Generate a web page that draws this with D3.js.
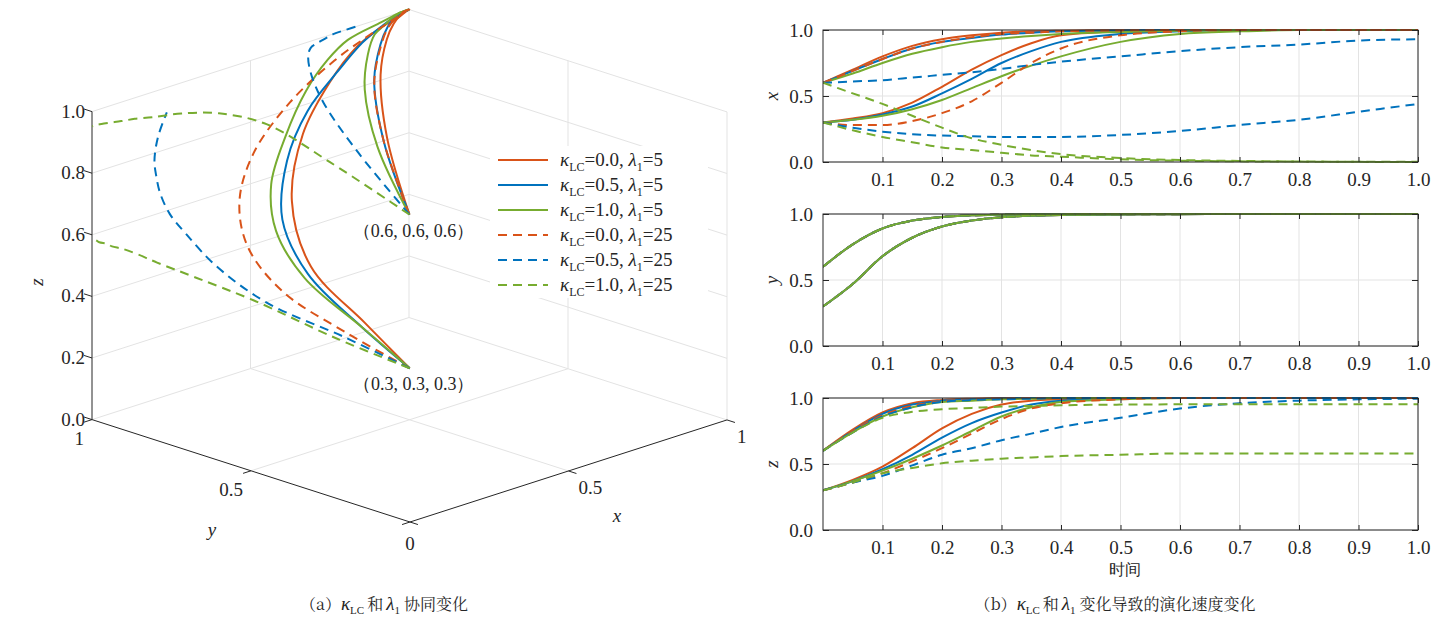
<!DOCTYPE html>
<html>
<head>
<meta charset="utf-8">
<script src="https://cdn.jsdelivr.net/npm/d3@7"></script>
<style>
  body { margin: 0; background: #fff; }
  svg text { font-family: "Liberation Serif", "DejaVu Serif", serif; fill: #262626; }
  svg text .cjk, svg text.cjk { font-family: "Noto Serif CJK SC", "Noto Sans CJK SC", serif; }
</style>
</head>
<body>
<div id="chart"></div>
<script>
// ---------------- data ----------------
var times = [0, 0.05, 0.1, 0.15, 0.2, 0.25, 0.3, 0.35, 0.4, 0.5, 0.6, 0.7, 0.8, 0.9, 1.0];

var kappaLabels = ["0.0", "0.5", "1.0", "0.0", "0.5", "1.0"];
var lambdaLabels = ["5", "5", "5", "25", "25", "25"];

// y(t) is practically identical for every parameter set
var yFrom06 = [0.60, 0.77, 0.89, 0.95, 0.978, 0.99, 0.995, 0.998, 0.999, 1, 1, 1, 1, 1, 1];
var yFrom03 = [0.30, 0.47, 0.68, 0.82, 0.905, 0.95, 0.975, 0.987, 0.993, 0.997, 0.999, 1, 1, 1, 1];

// x(t), one row per series (legend order), start (0.6,0.6,0.6)
var xFrom06 = [
  [0.60, 0.70, 0.80, 0.88, 0.93, 0.96, 0.98, 0.99, 0.995, 1, 1, 1, 1, 1, 1],
  [0.60, 0.69, 0.78, 0.86, 0.91, 0.94, 0.965, 0.98, 0.99, 0.997, 1, 1, 1, 1, 1],
  [0.60, 0.67, 0.75, 0.82, 0.87, 0.91, 0.935, 0.955, 0.97, 0.985, 0.995, 1, 1, 1, 1],
  [0.60, 0.69, 0.78, 0.86, 0.91, 0.945, 0.97, 0.98, 0.99, 0.997, 1, 1, 1, 1, 1],
  [0.60, 0.61, 0.62, 0.64, 0.66, 0.68, 0.705, 0.735, 0.76, 0.80, 0.84, 0.87, 0.89, 0.92, 0.93],
  [0.60, 0.52, 0.44, 0.35, 0.26, 0.18, 0.13, 0.09, 0.06, 0.03, 0.015, 0.008, 0.004, 0.002, 0.001]
];
// x(t), start (0.3,0.3,0.3)
var xFrom03 = [
  [0.30, 0.33, 0.37, 0.45, 0.57, 0.70, 0.81, 0.90, 0.96, 0.99, 1, 1, 1, 1, 1],
  [0.30, 0.32, 0.36, 0.42, 0.52, 0.63, 0.75, 0.84, 0.91, 0.97, 0.99, 1, 1, 1, 1],
  [0.30, 0.32, 0.35, 0.40, 0.47, 0.56, 0.65, 0.73, 0.80, 0.91, 0.97, 0.99, 1, 1, 1],
  [0.30, 0.28, 0.28, 0.31, 0.37, 0.46, 0.60, 0.75, 0.86, 0.96, 0.99, 1, 1, 1, 1],
  [0.30, 0.26, 0.23, 0.21, 0.20, 0.195, 0.19, 0.19, 0.19, 0.205, 0.235, 0.28, 0.32, 0.38, 0.44],
  [0.30, 0.24, 0.19, 0.15, 0.11, 0.09, 0.07, 0.05, 0.04, 0.02, 0.01, 0.005, 0.003, 0.001, 0]
];
// z(t), start (0.6,0.6,0.6)
var zFrom06 = [
  [0.60, 0.76, 0.89, 0.96, 0.985, 0.995, 1, 1, 1, 1, 1, 1, 1, 1, 1],
  [0.60, 0.75, 0.88, 0.95, 0.98, 0.99, 0.997, 1, 1, 1, 1, 1, 1, 1, 1],
  [0.60, 0.74, 0.86, 0.93, 0.97, 0.98, 0.99, 0.995, 1, 1, 1, 1, 1, 1, 1],
  [0.60, 0.75, 0.87, 0.94, 0.975, 0.99, 0.995, 1, 1, 1, 1, 1, 1, 1, 1],
  [0.60, 0.74, 0.86, 0.93, 0.97, 0.985, 0.99, 0.995, 1, 1, 1, 1, 1, 1, 1],
  [0.60, 0.74, 0.85, 0.895, 0.915, 0.925, 0.935, 0.94, 0.945, 0.95, 0.952, 0.952, 0.952, 0.952, 0.952]
];
// z(t), start (0.3,0.3,0.3)
var zFrom03 = [
  [0.30, 0.38, 0.48, 0.62, 0.77, 0.88, 0.95, 0.98, 0.99, 1, 1, 1, 1, 1, 1],
  [0.30, 0.37, 0.46, 0.57, 0.70, 0.81, 0.89, 0.95, 0.98, 1, 1, 1, 1, 1, 1],
  [0.30, 0.37, 0.45, 0.54, 0.64, 0.75, 0.86, 0.93, 0.97, 0.99, 1, 1, 1, 1, 1],
  [0.30, 0.36, 0.43, 0.52, 0.62, 0.73, 0.84, 0.92, 0.96, 0.99, 1, 1, 1, 1, 1],
  [0.30, 0.36, 0.41, 0.49, 0.57, 0.62, 0.68, 0.73, 0.78, 0.85, 0.92, 0.96, 0.98, 0.99, 0.995],
  [0.30, 0.36, 0.43, 0.47, 0.505, 0.525, 0.54, 0.55, 0.56, 0.57, 0.58, 0.58, 0.58, 0.58, 0.58]
];
// last time drawn in the 3D view for each series
var end3d = [1, 1, 1, 1, 0.6, 1];

var startLabels = ["（0.6, 0.6, 0.6）", "（0.3, 0.3, 0.3）"];
var startValues = [0.6, 0.3];
var zTicks = [0, 0.2, 0.4, 0.6, 0.8, 1.0];
var floorTicks = [0, 0.5, 1];
var timeTicks = [0.1, 0.2, 0.3, 0.4, 0.5, 0.6, 0.7, 0.8, 0.9, 1.0];
var valueTicks = [0, 0.5, 1];
var panelNames = ["x", "y", "z"];

// ---------------- styles ----------------
var colors = ["#d95319", "#0072bd", "#77ac30", "#d95319", "#0072bd", "#77ac30"];
var dashed = [false, false, false, true, true, true];
var gridColor = "#e3e3e3";
var axisColor = "#262626";
var serif = "'Liberation Serif', 'DejaVu Serif', serif";
var cjkFont = "'Noto Serif CJK SC', 'Noto Sans CJK SC', serif";

var svg = d3.select("#chart").append("svg")
  .attr("width", 1453)
  .attr("height", 629)
  .attr("font-family", serif);

// build the trajectories: each series has two starting points
var trajectories = [];
kappaLabels.forEach(function(k, i) {
  [[xFrom06[i], yFrom06, zFrom06[i]], [xFrom03[i], yFrom03, zFrom03[i]]].forEach(function(s) {
    trajectories.push({
      series: i,
      pts: times.map(function(t, j) { return {t: t, x: s[0][j], y: s[1][j], z: s[2][j]}; })
    });
  });
});

function styleLine(sel) {
  sel.attr("fill", "none")
    .attr("stroke", function(d) { return colors[d.series]; })
    .attr("stroke-width", 2)
    .attr("stroke-dasharray", function(d) { return dashed[d.series] ? "9,6" : null; });
}

// ================= (a) 3D view =================
var ox = 410, oy = 522, rise = 0.322;
var sx3 = d3.scaleLinear().domain([0, 1]).range([0, 317]);
var sy3 = d3.scaleLinear().domain([0, 1]).range([0, 318]);
var sz3 = d3.scaleLinear().domain([0, 1]).range([0, 308]);
function proj(x, y, z) {
  var a = sx3(x), b = sy3(y);
  return [ox + a - b, oy - rise * (a + b) - sz3(z)];
}

var g3 = svg.append("g");
function seg(p, q, color) {
  var a = proj(p[0], p[1], p[2]), b = proj(q[0], q[1], q[2]);
  g3.append("line")
    .attr("x1", a[0]).attr("y1", a[1]).attr("x2", b[0]).attr("y2", b[1])
    .attr("stroke", color).attr("stroke-width", 1);
}

// back walls and floor grid
zTicks.forEach(function(z) {
  seg([0, 1, z], [1, 1, z], gridColor);
  seg([1, 1, z], [1, 0, z], gridColor);
});
[0.5, 1].forEach(function(x) { seg([x, 1, 0], [x, 1, 1], gridColor); });
[0.5, 0].forEach(function(y) { seg([1, y, 0], [1, y, 1], gridColor); });
seg([0.5, 0, 0], [0.5, 1, 0], gridColor);
seg([0, 0.5, 0], [1, 0.5, 0], gridColor);

// axes
seg([0, 1, 0], [0, 1, 1], axisColor);
seg([0, 0, 0], [0, 1, 0], axisColor);
seg([0, 0, 0], [1, 0, 0], axisColor);
zTicks.forEach(function(z) { seg([0, 1, z], [0, 1.025, z], axisColor); });
floorTicks.forEach(function(v) {
  seg([0, v, 0], [-0.025, v, 0], axisColor);
  seg([v, 0, 0], [v, -0.025, 0], axisColor);
});

// tick labels
zTicks.forEach(function(z) {
  var p = proj(0, 1, z);
  g3.append("text").attr("x", p[0] - 7).attr("y", p[1] + 6)
    .attr("text-anchor", "end").attr("font-size", 19)
    .text(d3.format(".1f")(z));
});
[1, 0.5].forEach(function(v) {
  var p = proj(0, v, 0);
  g3.append("text").attr("x", p[0] - 8).attr("y", p[1] + 25)
    .attr("text-anchor", "end").attr("font-size", 19).text(v);
  var q = proj(v, 0, 0);
  g3.append("text").attr("x", q[0] + 10).attr("y", q[1] + 23)
    .attr("text-anchor", "start").attr("font-size", 19).text(v);
});
var p0 = proj(0, 0, 0);
g3.append("text").attr("x", p0[0]).attr("y", p0[1] + 28)
  .attr("text-anchor", "middle").attr("font-size", 19).text("0");

// axis labels
g3.append("text").attr("x", 212).attr("y", 536).attr("font-size", 19)
  .attr("font-style", "italic").attr("text-anchor", "middle").text("y");
g3.append("text").attr("x", 617).attr("y", 522).attr("font-size", 19)
  .attr("font-style", "italic").attr("text-anchor", "middle").text("x");
g3.append("text").attr("transform", "translate(43,282) rotate(-90)").attr("font-size", 19)
  .attr("font-style", "italic").attr("text-anchor", "middle").text("z");

// trajectories
var line3d = d3.line()
  .x(function(d) { return proj(d.x, d.y, d.z)[0]; })
  .y(function(d) { return proj(d.x, d.y, d.z)[1]; })
  .curve(d3.curveCatmullRom.alpha(0.5));

g3.selectAll(".traj3d")
  .data(trajectories)
  .enter()
  .append("path")
  .attr("class", "traj3d")
  .attr("d", function(d) {
    return line3d(d.pts.filter(function(p) { return p.t <= end3d[d.series] + 1e-9; }));
  })
  .call(styleLine);

// start point labels
startValues.forEach(function(v, i) {
  var p = proj(v, v, v);
  g3.append("text").attr("x", p[0] + 4).attr("y", p[1] + 22)
    .attr("text-anchor", "middle").attr("font-size", 18)
    .text(startLabels[i]);
});

// legend
var lg = svg.append("g").attr("transform", "translate(490,146)");
lg.append("rect").attr("width", 218).attr("height", 152).attr("fill", "#fff");
kappaLabels.forEach(function(k, i) {
  var yy = 14 + i * 25;
  lg.append("line").datum({series: i})
    .attr("x1", 8).attr("x2", 58).attr("y1", yy).attr("y2", yy)
    .call(styleLine);
  var t = lg.append("text").attr("x", 70).attr("y", yy + 6).attr("font-size", 19);
  t.append("tspan").attr("font-style", "italic").text("κ");
  t.append("tspan").attr("font-size", 12).attr("dy", 5).text("LC");
  t.append("tspan").attr("dy", -5).text("=" + k + ", ");
  t.append("tspan").attr("font-style", "italic").text("λ");
  t.append("tspan").attr("font-size", 12).attr("dy", 5).text("1");
  t.append("tspan").attr("dy", -5).text("=" + lambdaLabels[i]);
});

// ================= (b) time panels =================
var panelTops = [30, 214, 398];
var panelH = 132;
var tx = d3.scaleLinear().domain([0, 1]).range([823, 1418]);

svg.append("defs").selectAll("clipPath")
  .data(panelTops)
  .enter()
  .append("clipPath")
  .attr("id", function(d, i) { return "clip" + i; })
  .append("rect")
  .attr("x", tx(0)).attr("y", function(d) { return d - 2; })
  .attr("width", tx(1) - tx(0)).attr("height", panelH + 4);

panelTops.forEach(function(top, pi) {
  var vy = d3.scaleLinear().domain([0, 1]).range([top + panelH, top]);
  var g = svg.append("g");

  // grid
  g.selectAll(".vgrid").data(timeTicks).enter().append("line")
    .attr("x1", tx).attr("x2", tx).attr("y1", top).attr("y2", top + panelH)
    .attr("stroke", gridColor);
  g.selectAll(".hgrid").data(valueTicks).enter().append("line")
    .attr("x1", tx(0)).attr("x2", tx(1)).attr("y1", vy).attr("y2", vy)
    .attr("stroke", gridColor);

  // series
  var line2d = d3.line()
    .x(function(d) { return tx(d.t); })
    .y(function(d) { return vy(pi === 0 ? d.x : pi === 1 ? d.y : d.z); })
    .curve(d3.curveMonotoneX);
  g.append("g").attr("clip-path", "url(#clip" + pi + ")")
    .selectAll("path")
    .data(trajectories)
    .enter()
    .append("path")
    .attr("d", function(d) { return line2d(d.pts); })
    .call(styleLine);

  // axes
  var fmt = d3.format(".1f");
  var bottomAxis = d3.axisBottom(tx).tickValues(timeTicks).tickFormat(fmt)
    .tickSizeInner(-5).tickSizeOuter(0).tickPadding(11);
  var topAxis = d3.axisTop(tx).tickValues(timeTicks).tickFormat("")
    .tickSizeInner(-5).tickSizeOuter(0);
  var leftAxis = d3.axisLeft(vy).tickValues(valueTicks).tickFormat(fmt)
    .tickSizeInner(-6).tickSizeOuter(0).tickPadding(10);
  var rightAxis = d3.axisRight(vy).tickValues(valueTicks).tickFormat("")
    .tickSizeInner(-6).tickSizeOuter(0);

  [[bottomAxis, "translate(0," + (top + panelH) + ")"],
   [topAxis, "translate(0," + top + ")"],
   [leftAxis, "translate(" + tx(0) + ",0)"],
   [rightAxis, "translate(" + tx(1) + ",0)"]].forEach(function(a) {
    var ag = g.append("g").attr("transform", a[1]).call(a[0]);
    ag.attr("font-family", serif);
    ag.select(".domain").remove();
    ag.selectAll("line").attr("stroke", axisColor);
    ag.selectAll("text").attr("font-size", 19).attr("fill", axisColor);
  });

  g.append("rect")
    .attr("x", tx(0)).attr("y", top)
    .attr("width", tx(1) - tx(0)).attr("height", panelH)
    .attr("fill", "none").attr("stroke", axisColor).attr("stroke-width", 1);

  g.append("text")
    .attr("transform", "translate(778," + (top + panelH / 2) + ") rotate(-90)")
    .attr("text-anchor", "middle").attr("font-size", 19).attr("font-style", "italic")
    .text(panelNames[pi]);
});

svg.append("text").attr("font-family", cjkFont)
  .attr("x", (tx(0) + tx(1)) / 2 + 4).attr("y", 575)
  .attr("text-anchor", "middle").attr("font-size", 16).text("时间");

// ================= captions =================
function caption(x, tag, rest) {
  var t = svg.append("text").attr("x", x).attr("y", 610)
    .attr("text-anchor", "middle").attr("font-size", 16);
  t.append("tspan").attr("font-family", cjkFont).text("（" + tag + "）");
  t.append("tspan").attr("font-style", "italic").attr("font-size", 19).text("κ");
  t.append("tspan").attr("font-size", 11).attr("dy", 4).text("LC");
  t.append("tspan").attr("dy", -4).attr("dx", 3).attr("font-family", cjkFont).text("和");
  t.append("tspan").attr("font-style", "italic").attr("font-size", 19).attr("dx", 3).text("λ");
  t.append("tspan").attr("font-size", 11).attr("dy", 4).text("1");
  t.append("tspan").attr("dy", -4).attr("dx", 4).attr("font-family", cjkFont).text(rest);
}
caption(384, "a", "协同变化");
caption(1115, "b", "变化导致的演化速度变化");
</script>
</body>
</html>
